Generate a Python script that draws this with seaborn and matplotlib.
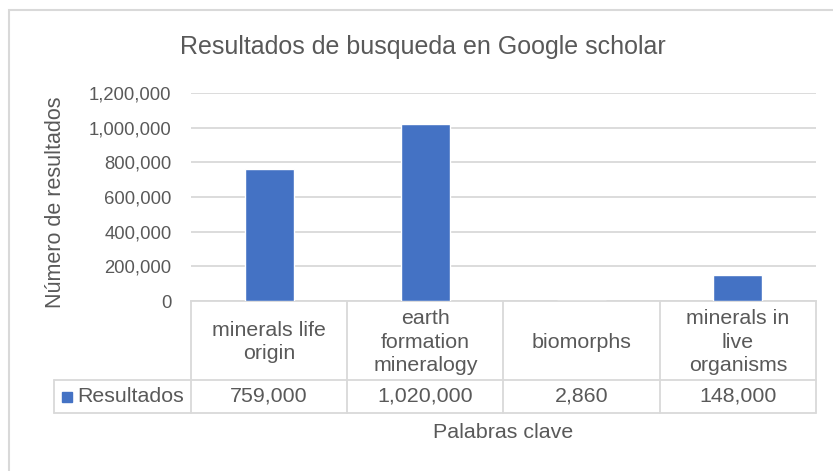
import matplotlib
matplotlib.use("Agg")
import matplotlib.pyplot as plt
import seaborn as sns
import pandas as pd
from matplotlib.patches import Rectangle
from matplotlib.lines import Line2D
from matplotlib.ticker import FuncFormatter

categories = ["minerals life\norigin", "earth\nformation\nmineralogy", "biomorphs", "minerals in\nlive\norganisms"]
values = [759000, 1020000, 2860, 148000]
value_labels = ["759,000", "1,020,000", "2,860", "148,000"]
series_name = "Resultados"
title = "Resultados de busqueda en Google scholar"
ylabel = "Número de resultados"
xlabel = "Palabras clave"
yticks = [0, 200000, 400000, 600000, 800000, 1000000, 1200000]

sns.set_theme(style="white")
plt.rcParams["font.family"] = ["Liberation Sans", "DejaVu Sans"]

TXT = "#595959"
GRID = "#D9D9D9"
BLUE = "#4472C4"
TFS = 15.4  # table / axis title font size

W, H = 833, 471
fig = plt.figure(figsize=(W / 100, H / 100), dpi=100)

def fx(px):
    return px / W

def fy(py):
    return 1 - py / H

# outer chart border
fig.patches.append(Rectangle((fx(9), fy(H + 5)), fx(W), fy(10) - fy(H + 5),
                             transform=fig.transFigure, fill=False,
                             edgecolor=GRID, linewidth=1.5, zorder=0))

left, right, top, bottom = 191, 816, 93, 301
ax = fig.add_axes([fx(left), fy(bottom), fx(right - left), fy(top) - fy(bottom)])

df = pd.DataFrame({"cat": categories, "val": values})
sns.barplot(data=df, x="cat", y="val", color=BLUE, width=0.315, saturation=1,
            ax=ax, zorder=3)

ax.set_ylim(0, 1200000)
ax.set_xlim(-0.5, len(categories) - 0.5)
ax.set_yticks(yticks)
ax.yaxis.set_major_formatter(FuncFormatter(lambda v, p: f"{int(v):,}"))
ax.tick_params(axis="y", length=0, pad=14, labelsize=13.3, labelcolor=TXT)
ax.set_xticks([])
ax.set_xlabel("")
ax.set_ylabel(ylabel, fontsize=15.5, color=TXT)
ax.yaxis.set_label_coords((66 - left) / (right - left), (bottom - 202) / (bottom - top))
ax.grid(axis="y", color=GRID, linewidth=1.3, zorder=0)
for s in ["top", "right", "left"]:
    ax.spines[s].set_visible(False)
ax.spines["bottom"].set_color(GRID)
ax.spines["bottom"].set_linewidth(1.3)

# title
fig.text(fx(423), fy(47), title, ha="center", va="center", fontsize=18, color=TXT)

# data table
lw = 1.3
row1_top, row1_bot, row2_bot = 301, 380, 413
cell_w = (right - left) / len(categories)
for i in range(len(categories) + 1):
    x = left + i * cell_w
    fig.add_artist(Line2D([fx(x), fx(x)], [fy(row1_top), fy(row2_bot)],
                          transform=fig.transFigure, color=GRID, linewidth=lw))
fig.add_artist(Line2D([fx(54), fx(54)], [fy(row1_bot), fy(row2_bot)],
                      transform=fig.transFigure, color=GRID, linewidth=lw))
for y in [row1_bot, row2_bot]:
    fig.add_artist(Line2D([fx(54), fx(right)], [fy(y), fy(y)],
                          transform=fig.transFigure, color=GRID, linewidth=lw))

for i, (c, v) in enumerate(zip(categories, value_labels)):
    cx = left + (i + 0.5) * cell_w
    fig.text(fx(cx), fy(342), c, ha="center", va="center",
             fontsize=TFS, color=TXT, linespacing=1.28)
    fig.text(fx(cx), fy((row1_bot + row2_bot) / 2), v, ha="center", va="center",
             fontsize=TFS, color=TXT)

fig.patches.append(Rectangle((fx(62), fy(402)), fx(10), fy(392) - fy(402),
                             transform=fig.transFigure, color=BLUE))
fig.text(fx(77), fy(397), series_name, ha="left", va="center", fontsize=TFS, color=TXT)

fig.text(fx(503), fy(433), xlabel, ha="center", va="center", fontsize=TFS, color=TXT)

fig.savefig("out.png", dpi=100)
